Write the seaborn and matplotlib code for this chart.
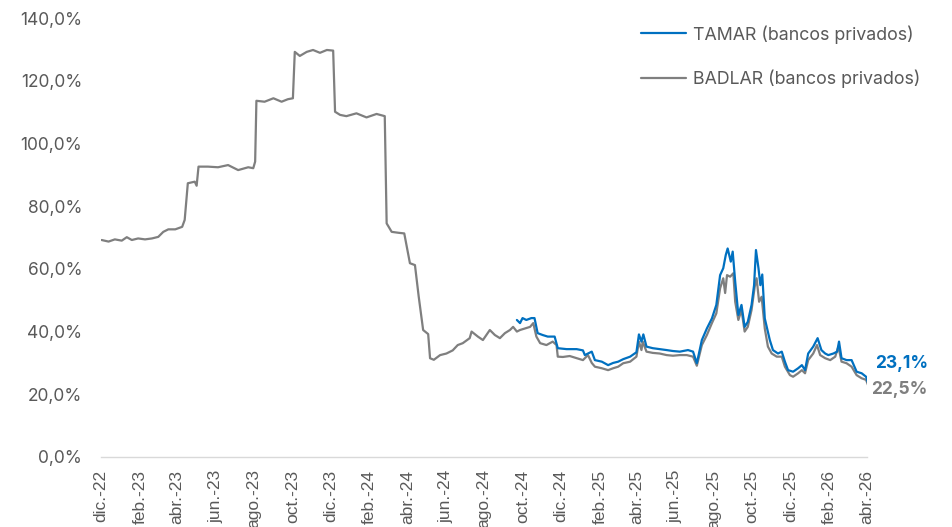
import matplotlib
matplotlib.use("Agg")
import matplotlib.pyplot as plt
from matplotlib.ticker import FuncFormatter
import seaborn as sns
import pandas as pd

# ---------------- data ----------------
badlar_dates = [
    "2022-12-02", "2022-12-13", "2022-12-23", "2023-01-03", "2023-01-11", "2023-01-19",
    "2023-01-29", "2023-02-09", "2023-02-20", "2023-03-02", "2023-03-10", "2023-03-18",
    "2023-03-29", "2023-04-09", "2023-04-13", "2023-04-18", "2023-04-29", "2023-05-02",
    "2023-05-05", "2023-05-20", "2023-06-05", "2023-06-21", "2023-07-07", "2023-07-23",
    "2023-07-31", "2023-08-03", "2023-08-05", "2023-08-18", "2023-09-01", "2023-09-14",
    "2023-09-24", "2023-10-02", "2023-10-05", "2023-10-13", "2023-10-24", "2023-11-03",
    "2023-11-14", "2023-11-25", "2023-12-05", "2023-12-08", "2023-12-16", "2023-12-26",
    "2024-01-11", "2024-01-27", "2024-02-12", "2024-02-25", "2024-02-28", "2024-03-07",
    "2024-03-18", "2024-03-27", "2024-04-05", "2024-04-13", "2024-04-19", "2024-04-26",
    "2024-05-04", "2024-05-07", "2024-05-13", "2024-05-23", "2024-06-02", "2024-06-12",
    "2024-06-20", "2024-06-28", "2024-07-09", "2024-07-12", "2024-07-22", "2024-07-30",
    "2024-08-10", "2024-08-18", "2024-08-26", "2024-09-03", "2024-09-11", "2024-09-16",
    "2024-09-22", "2024-09-27", "2024-10-05", "2024-10-13", "2024-10-18", "2024-10-23",
    "2024-10-29", "2024-11-08", "2024-11-18", "2024-11-24", "2024-11-26", "2024-12-04",
    "2024-12-15", "2024-12-26", "2025-01-05", "2025-01-13", "2025-01-19", "2025-01-24",
    "2025-02-04", "2025-02-14", "2025-02-22", "2025-03-02", "2025-03-10", "2025-03-21",
    "2025-03-31", "2025-04-04", "2025-04-08", "2025-04-10", "2025-04-16", "2025-04-26",
    "2025-05-07", "2025-05-18", "2025-05-28", "2025-06-08", "2025-06-19", "2025-06-29",
    "2025-07-05", "2025-07-13", "2025-07-21", "2025-07-29", "2025-08-05", "2025-08-11",
    "2025-08-16", "2025-08-19", "2025-08-22", "2025-08-27", "2025-09-01", "2025-09-04",
    "2025-09-09", "2025-09-14", "2025-09-19", "2025-09-24", "2025-09-30", "2025-10-05",
    "2025-10-08", "2025-10-12", "2025-10-16", "2025-10-21", "2025-10-26", "2025-11-01",
    "2025-11-09", "2025-11-17", "2025-11-22", "2025-11-30", "2025-12-05", "2025-12-13",
    "2025-12-19", "2025-12-24", "2025-12-29", "2026-01-06", "2026-01-12", "2026-01-17",
    "2026-01-25", "2026-02-02", "2026-02-10", "2026-02-15", "2026-02-20", "2026-02-28",
    "2026-03-08", "2026-03-16", "2026-03-24", "2026-03-31", "2026-04-04",
]
badlar_values = [
    69.2, 68.7, 69.4, 69.0, 70.1, 69.2,
    69.7, 69.4, 69.7, 70.2, 71.8, 72.6,
    72.6, 73.4, 75.6, 87.3, 87.8, 86.5,
    92.6, 92.6, 92.4, 93.1, 91.5, 92.4,
    92.1, 94.2, 113.6, 113.3, 114.4, 113.3,
    114.1, 114.4, 129.2, 127.9, 129.2, 129.8,
    128.9, 129.8, 129.6, 110.1, 109.1, 108.7,
    109.6, 108.3, 109.4, 108.7, 74.5, 71.8,
    71.5, 71.3, 61.8, 61.2, 51.1, 40.5,
    39.2, 31.5, 31.0, 32.5, 33.0, 34.0,
    35.7, 36.3, 37.9, 40.0, 38.4, 37.3,
    40.5, 38.9, 37.9, 39.5, 40.5, 41.5,
    40.0, 40.5, 41.0, 41.5, 42.7, 38.4,
    36.3, 35.7, 36.8, 35.7, 32.0, 31.9,
    32.2, 31.5, 30.9, 32.5, 30.0, 28.8,
    28.3, 27.7, 28.3, 28.8, 29.9, 30.4,
    32.0, 36.8, 34.1, 36.8, 33.6, 33.2,
    33.0, 32.5, 32.3, 32.5, 32.5, 32.0,
    29.1, 35.7, 38.9, 42.7, 45.8, 53.8,
    57.0, 52.3, 58.0, 57.5, 58.6, 49.5,
    43.7, 46.9, 40.0, 41.5, 46.9, 54.3,
    57.0, 49.5, 51.1, 41.0, 35.2, 33.0,
    32.0, 32.0, 28.8, 26.1, 25.6, 26.7,
    27.7, 26.7, 30.9, 33.0, 35.7, 32.5,
    31.5, 30.9, 32.0, 35.2, 30.4, 29.9,
    28.8, 26.1, 25.1, 24.6, 22.5,
]

tamar_dates = [
    "2024-09-22", "2024-09-27", "2024-10-01", "2024-10-07", "2024-10-15", "2024-10-20",
    "2024-10-25", "2024-11-02", "2024-11-10", "2024-11-21", "2024-11-26", "2024-12-10",
    "2024-12-26", "2025-01-05", "2025-01-08", "2025-01-19", "2025-01-24", "2025-02-04",
    "2025-02-14", "2025-02-22", "2025-03-02", "2025-03-10", "2025-03-21", "2025-03-31",
    "2025-04-04", "2025-04-08", "2025-04-11", "2025-04-16", "2025-04-26", "2025-05-07",
    "2025-05-18", "2025-05-28", "2025-06-08", "2025-06-21", "2025-06-29", "2025-07-05",
    "2025-07-13", "2025-07-21", "2025-07-29", "2025-08-05", "2025-08-11", "2025-08-16",
    "2025-08-20", "2025-08-23", "2025-08-28", "2025-08-31", "2025-09-04", "2025-09-09",
    "2025-09-14", "2025-09-19", "2025-09-24", "2025-09-30", "2025-10-04", "2025-10-07",
    "2025-10-11", "2025-10-14", "2025-10-17", "2025-10-21", "2025-10-29", "2025-11-03",
    "2025-11-11", "2025-11-17", "2025-11-22", "2025-11-27", "2025-12-05", "2025-12-13",
    "2025-12-19", "2025-12-24", "2025-12-29", "2026-01-06", "2026-01-13", "2026-01-19",
    "2026-01-25", "2026-01-30", "2026-02-07", "2026-02-13", "2026-02-16", "2026-02-20",
    "2026-02-28", "2026-03-08", "2026-03-16", "2026-03-24", "2026-03-31", "2026-04-04",
]
tamar_values = [
    43.7, 42.7, 44.3, 43.7, 44.3, 44.3,
    39.5, 38.9, 38.4, 38.4, 34.7, 34.4,
    34.4, 34.0, 32.5, 33.6, 30.9, 30.4,
    29.3, 30.0, 30.4, 31.2, 32.0, 33.4,
    39.1, 36.8, 39.1, 35.2, 34.7, 34.4,
    34.1, 33.8, 33.6, 34.1, 33.6, 29.9,
    37.3, 41.0, 44.2, 48.5, 58.0, 60.2,
    64.4, 66.5, 62.3, 65.5, 55.9, 45.3,
    48.5, 41.5, 43.1, 48.5, 54.8, 66.0,
    60.2, 54.8, 58.2, 44.2, 37.3, 34.1,
    33.0, 33.6, 30.4, 27.7, 27.2, 28.3,
    29.3, 27.7, 33.0, 35.2, 37.9, 34.1,
    33.0, 32.5, 33.0, 33.6, 36.8, 31.5,
    30.9, 30.9, 27.2, 26.7, 25.6, 23.1,
]

series_names = ["TAMAR (bancos privados)", "BADLAR (bancos privados)"]
series_colors = ["#0070C0", "#7F7F7F"]

tick_dates = [
    "2022-12-01", "2023-02-01", "2023-04-01", "2023-06-01", "2023-08-01", "2023-10-01",
    "2023-12-01", "2024-02-01", "2024-04-01", "2024-06-01", "2024-08-01", "2024-10-01",
    "2024-12-01", "2025-02-01", "2025-04-01", "2025-06-01", "2025-08-01", "2025-10-01",
    "2025-12-01", "2026-02-01", "2026-04-01",
]
tick_labels = [
    "dic.-22", "feb.-23", "abr.-23", "jun.-23", "ago.-23", "oct.-23",
    "dic.-23", "feb.-24", "abr.-24", "jun.-24", "ago.-24", "oct.-24",
    "dic.-24", "feb.-25", "abr.-25", "jun.-25", "ago.-25", "oct.-25",
    "dic.-25", "feb.-26", "abr.-26",
]
y_ticks = [0, 20, 40, 60, 80, 100, 120, 140]

# ---------------- build frame ----------------
df = pd.concat([
    pd.DataFrame({"fecha": pd.to_datetime(tamar_dates), "tasa": tamar_values,
                  "serie": series_names[0]}),
    pd.DataFrame({"fecha": pd.to_datetime(badlar_dates), "tasa": badlar_values,
                  "serie": series_names[1]}),
], ignore_index=True)

sns.set_style("white")
plt.rcParams["font.family"] = ["Inter", "DejaVu Sans"]

fig = plt.figure(figsize=(9.53, 5.27), dpi=100)
ax = fig.add_axes([101 / 953, 1 - 457 / 527, (866.7 - 101) / 953, (457 - 18) / 527])

sns.lineplot(data=df[df["serie"] == series_names[1]], x="fecha", y="tasa",
             color=series_colors[1], linewidth=1.6, ax=ax, label=series_names[1],
             zorder=2)
sns.lineplot(data=df[df["serie"] == series_names[0]], x="fecha", y="tasa",
             color=series_colors[0], linewidth=1.6, ax=ax, label=series_names[0],
             zorder=3)

ax.set_xlim(pd.Timestamp(tick_dates[0]), pd.Timestamp(tick_dates[-1]))
ax.set_ylim(0, 140)
ax.set_xlabel("")
ax.set_ylabel("")

ax.set_xticks(pd.to_datetime(tick_dates))
ax.set_xticklabels(tick_labels, rotation=90, color="#595959", fontsize=12.5,
                   family=["Liberation Sans", "DejaVu Sans"])
ax.set_yticks(y_ticks)
ax.yaxis.set_major_formatter(FuncFormatter(lambda v, p: f"{v:.1f}".replace(".", ",") + "%"))
ax.tick_params(axis="y", length=0, pad=13.5, labelsize=12.5, labelcolor="#595959")
ax.tick_params(axis="x", length=4, width=0.8, color="#D9D9D9", pad=5)

for s in ["left", "right", "top"]:
    ax.spines[s].set_visible(False)
ax.spines["bottom"].set_color("#D9D9D9")
ax.spines["bottom"].set_linewidth(1.0)
ax.grid(False)

# legend
handles, labels = ax.get_legend_handles_labels()
order = [labels.index(series_names[0]), labels.index(series_names[1])]
leg = ax.legend([handles[i] for i in order], [labels[i] for i in order],
                loc="upper left", bbox_to_anchor=(641 / 953, 1 - 25 / 527),
                bbox_transform=fig.transFigure, frameon=False, borderpad=0,
                borderaxespad=0, handlelength=2.55, handletextpad=0.35,
                labelspacing=1.45, fontsize=12.8)
for t in leg.get_texts():
    t.set_color("#595959")

# end labels
last_t = pd.Timestamp(tamar_dates[-1])
last_b = pd.Timestamp(badlar_dates[-1])
ax.annotate(f"{tamar_values[-1]:.1f}".replace(".", ",") + "%", xy=(last_t, tamar_values[-1]),
            xytext=(5, 15), textcoords="offset points", ha="left", va="center",
            fontsize=12.5, fontweight="bold", color=series_colors[0], annotation_clip=False)
ax.annotate(f"{badlar_values[-1]:.1f}".replace(".", ",") + "%", xy=(last_b, badlar_values[-1]),
            xytext=(2, -2), textcoords="offset points", ha="left", va="center",
            fontsize=12.5, fontweight="bold", color=series_colors[1], annotation_clip=False)

fig.savefig("out.png", dpi=100)
